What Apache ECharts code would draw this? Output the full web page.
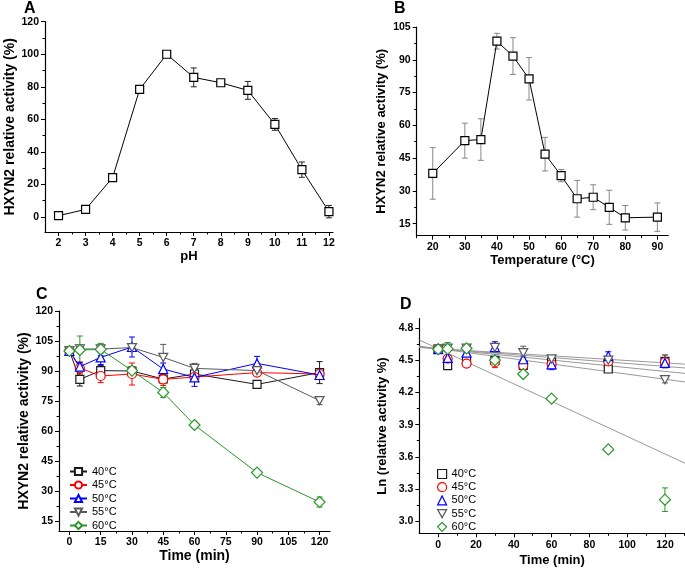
<!DOCTYPE html>
<html><head><meta charset="utf-8">
<script src="https://cdn.jsdelivr.net/npm/echarts@6/dist/echarts.min.js"></script>
<style>html,body{margin:0;padding:0;background:#fff}#c{width:685px;height:572px}</style>
</head><body><div id="c"></div>
<script>
// ---------- Panel A: pH ----------
const phValues   = [2, 3, 4, 5, 6, 7, 8, 9, 10, 11, 12];
const phActivity = [0.8, 4.7, 24.2, 78.4, 100, 85.8, 82.5, 77.8, 56.9, 29.1, 3.3];
const phError    = [0.8, 1, 1.5, 1.5, 0.5, 5.8, 1, 5.5, 3.6, 4.7, 3.8];
const phTicksX   = [2, 3, 4, 5, 6, 7, 8, 9, 10, 11, 12];
const phMinorX   = [2.5, 3.5, 4.5, 5.5, 6.5, 7.5, 8.5, 9.5, 10.5, 11.5];
const phTicksY   = [0, 20, 40, 60, 80, 100, 120];
const phMinorY   = [10, 30, 50, 70, 90, 110];

// ---------- Panel B: temperature ----------
const tempValues   = [20, 30, 35, 40, 45, 50, 55, 60, 65, 70, 75, 80, 90];
const tempActivity = [38, 53, 53.5, 98.5, 91.7, 81.3, 46.8, 37, 26.4, 27.1, 22.5, 17.7, 18];
const tempError    = [11.8, 8, 9.5, 3.6, 8.4, 9.7, 7.7, 2.8, 8.4, 5.7, 7.8, 5.6, 6.5];
const tempTicksX   = [20, 30, 40, 50, 60, 70, 80, 90];
const tempMinorX   = [15, 25, 35, 45, 55, 65, 75, 85];
const tempTicksY   = [15, 30, 45, 60, 75, 90, 105];
const tempMinorY   = [22.5, 37.5, 52.5, 67.5, 82.5, 97.5];

// ---------- Panel C: thermostability ----------
const timePoints = [0, 5, 15, 30, 45, 60, 90, 120];
const seriesNames = ['40°C', '45°C', '50°C', '55°C', '60°C'];
const act40 = [100, 85.8, 90.2, 90, 86, 88.5, 83.3, 89.2];
const act45 = [100, 91.5, 87.5, 88.5, 85.8, 87, 89.2, 88.5];
const act50 = [100, 92.2, 96.8, 102, 91, 86.8, 93.8, 88];
const act55 = [100, 101, 101, 101.7, 96.8, 91.3, 90.2, 75.2];
const act60 = [100, 100.5, 100.8, 90.2, 79.3, 63, 39.2, 24.5];
const err40 = [1, 3.3, 3, 2, 2, 2, 1, 5.5];
const err45 = [1, 3, 3.3, 5.5, 3, 2, 1, 2];
const err50 = [1, 2, 4, 5, 3, 4.5, 3.5, 2];
const err55 = [1, 2, 2, 2, 6.5, 2.5, 1, 2];
const err60 = [1, 7, 3, 2, 2.5, 1.5, 1.5, 2.5];
const cTicksX = [0, 15, 30, 45, 60, 75, 90, 105, 120];
const cMinorX = [7.5, 22.5, 37.5, 52.5, 67.5, 82.5, 97.5, 112.5];
const cTicksY = [15, 30, 45, 60, 75, 90, 105, 120];
const cMinorY = [22.5, 37.5, 52.5, 67.5, 82.5, 97.5, 112.5];

// ---------- Panel D: Ln(relative activity) ----------
const ln40 = [4.605, 4.452, 4.502, 4.500, 4.454, 4.483, 4.420, 4.491];
const ln45 = [4.605, 4.516, 4.471, 4.483, 4.452, 4.466, 4.491, 4.483];
const ln50 = [4.605, 4.524, 4.573, 4.625, 4.511, 4.464, 4.541, 4.477];
const ln55 = [4.605, 4.615, 4.615, 4.622, 4.573, 4.514, 4.502, 4.320];
const ln60 = [4.605, 4.608, 4.613, 4.502, 4.373, 4.143, 3.669, 3.199];
const lnErr40 = [0.01, 0.03, 0.03, 0.02, 0.02, 0.02, 0.01, 0.06];
const lnErr45 = [0.01, 0.03, 0.03, 0.05, 0.03, 0.02, 0.01, 0.02];
const lnErr50 = [0.01, 0.02, 0.04, 0.05, 0.03, 0.05, 0.04, 0.02];
const lnErr55 = [0.01, 0.02, 0.02, 0.02, 0.06, 0.03, 0.01, 0.03];
const lnErr60 = [0.01, 0.06, 0.03, 0.02, 0.02, 0.02, 0.02, 0.11];
const fitIntercept = [4.61, 4.61, 4.61, 4.61, 4.609];
const fitSlope     = [-0.00177, -0.00111, -0.00138, -0.00238, -0.00819];
const dTicksX = [0, 20, 40, 60, 80, 100, 120];
const dMinorX = [10, 30, 50, 70, 90, 110, 130];
const dTicksY = [3.0, 3.3, 3.6, 3.9, 4.2, 4.5, 4.8];
const dMinorY = [3.15, 3.45, 3.75, 4.05, 4.35, 4.65];

const FONT = "'Liberation Sans', Arial, Helvetica, sans-serif";
const colors = ['#1a1a1a', '#ff0000', '#0000ff', '#5a5a5a', '#2a962a'];
const downTri = 'path://M0,0 L10,0 L5,9 Z';
const symbols = ['rect', 'circle', 'triangle', downTri, 'diamond'];
const symSizes = [8, 9, 9, 9, 11];
const cActs = [act40, act45, act50, act55, act60];
const cErrs = [err40, err45, err50, err55, err60];
const dLns = [ln40, ln45, ln50, ln55, ln60];
const dErrs = [lnErr40, lnErr45, lnErr50, lnErr55, lnErr60];

const grids = [
  {left: 45, top: 21.7, width: 288, height: 210.3},
  {left: 416.7, top: 27, width: 251.6, height: 208.7},
  {left: 59, top: 311, width: 271, height: 220},
  {left: 419.3, top: 318.7, width: 265.7, height: 214.6}
];
const xRanges = [[1.5, 12.15], [15, 93.4], [-5, 125], [-10, 130.6]];
const yRanges = [[-9.2, 120], [9.5, 105], [10, 120], [2.885, 4.89]];

function mainAxis(dim, gi, range, ticks, name, nameGap, nameSize, fmt) {
  return {
    type: 'value', gridIndex: gi, min: range[0], max: range[1],
    position: dim === 'x' ? 'bottom' : 'left',
    axisLine: {show: true, onZero: false, lineStyle: {color: '#000', width: 1.2}},
    axisTick: {show: true, customValues: ticks, length: 4, lineStyle: {color: '#000', width: 1}},
    axisLabel: {customValues: ticks, color: '#000', fontSize: 10.5, fontWeight: 'bold', fontFamily: FONT,
                margin: 6, formatter: fmt},
    splitLine: {show: false},
    name: name, nameLocation: 'middle', nameGap: nameGap,
    nameTextStyle: {color: '#000', fontSize: nameSize, fontWeight: 'bold', fontFamily: FONT}
  };
}
function minorAxis(dim, gi, range, ticks) {
  return {
    type: 'value', gridIndex: gi, min: range[0], max: range[1],
    position: dim === 'x' ? 'bottom' : 'left',
    axisLine: {show: false, onZero: false},
    axisTick: {show: true, customValues: ticks, length: 2.5, lineStyle: {color: '#000', width: 1}},
    axisLabel: {show: false}, splitLine: {show: false}
  };
}
const intFmt = v => String(Math.round(v));
const oneFmt = v => v.toFixed(1);

const xAxes = [
  mainAxis('x', 0, xRanges[0], phTicksX, 'pH', 18, 13, intFmt), minorAxis('x', 0, xRanges[0], phMinorX),
  mainAxis('x', 1, xRanges[1], tempTicksX, 'Temperature (°C)', 12, 13, intFmt), minorAxis('x', 1, xRanges[1], tempMinorX),
  mainAxis('x', 2, xRanges[2], cTicksX, 'Time (min)', 15, 14, intFmt), minorAxis('x', 2, xRanges[2], cMinorX),
  mainAxis('x', 3, xRanges[3], dTicksX, 'Time (min)', 21, 13, intFmt), minorAxis('x', 3, xRanges[3], dMinorX)
];
const yAxes = [
  mainAxis('y', 0, yRanges[0], phTicksY, 'HXYN2 relative activity (%)', 28, 14, intFmt), minorAxis('y', 0, yRanges[0], phMinorY),
  mainAxis('y', 1, yRanges[1], tempTicksY, 'HXYN2 relative activity (%)', 29, 13, intFmt), minorAxis('y', 1, yRanges[1], tempMinorY),
  mainAxis('y', 2, yRanges[2], cTicksY, 'HXYN2 relative activity (%)', 28, 14, intFmt), minorAxis('y', 2, yRanges[2], cMinorY),
  mainAxis('y', 3, yRanges[3], dTicksY, 'Ln (relative activity %)', 30, 13, oneFmt), minorAxis('y', 3, yRanges[3], dMinorY)
];

function errRender(color, half) {
  return function (params, api) {
    const x = api.value(0), lo = api.value(1), hi = api.value(2);
    const a = api.coord([x, hi]), b = api.coord([x, lo]);
    const st = {stroke: color, lineWidth: 1, fill: null};
    return {type: 'group', children: [
      {type: 'line', shape: {x1: a[0], y1: a[1], x2: b[0], y2: b[1]}, style: st},
      {type: 'line', shape: {x1: a[0] - half, y1: a[1], x2: a[0] + half, y2: a[1]}, style: st},
      {type: 'line', shape: {x1: b[0] - half, y1: b[1], x2: b[0] + half, y2: b[1]}, style: st}
    ]};
  };
}
function errSeries(axisIdx, xs, ys, es, color, half) {
  return {
    type: 'custom', xAxisIndex: axisIdx, yAxisIndex: axisIdx, silent: true, z: 2,
    renderItem: errRender(color, half),
    encode: {x: 0, y: [1, 2]},
    data: xs.map((x, i) => [x, ys[i] - es[i], ys[i] + es[i]])
  };
}

const series = [];
// A
series.push(errSeries(0, phValues, phActivity, phError, '#222', 3));
series.push({type: 'line', xAxisIndex: 0, yAxisIndex: 0, z: 3,
  data: phValues.map((x, i) => [x, phActivity[i]]),
  symbol: 'rect', symbolSize: 8,
  itemStyle: {color: '#fff', borderColor: '#000', borderWidth: 1.2},
  lineStyle: {color: '#000', width: 1}});
// B
series.push(errSeries(2, tempValues, tempActivity, tempError, '#888', 3));
series.push({type: 'line', xAxisIndex: 2, yAxisIndex: 2, z: 3,
  data: tempValues.map((x, i) => [x, tempActivity[i]]),
  symbol: 'rect', symbolSize: 8,
  itemStyle: {color: '#fff', borderColor: '#000', borderWidth: 1.2},
  lineStyle: {color: '#000', width: 1}});
// C
seriesNames.forEach((nm, k) => {
  series.push(errSeries(4, timePoints, cActs[k], cErrs[k], colors[k], 3));
});
seriesNames.forEach((nm, k) => {
  series.push({type: 'line', name: nm, xAxisIndex: 4, yAxisIndex: 4, z: 3 + k,
    data: timePoints.map((t, i) => [t, cActs[k][i]]),
    symbol: symbols[k], symbolSize: symSizes[k], symbolKeepAspect: true,
    itemStyle: {color: '#fff', borderColor: colors[k], borderWidth: 1.2},
    lineStyle: {color: colors[k], width: 1}});
});
// D fit lines
fitIntercept.forEach((a, k) => {
  const xs = xRanges[3];
  series.push({type: 'line', xAxisIndex: 6, yAxisIndex: 6, z: 2, silent: true,
    data: [[xs[0], a + fitSlope[k] * xs[0]], [xs[1], a + fitSlope[k] * xs[1]]],
    symbol: 'none', lineStyle: {color: '#999', width: 1}});
});
seriesNames.forEach((nm, k) => {
  series.push(errSeries(6, timePoints, dLns[k], dErrs[k], colors[k], 3));
});
seriesNames.forEach((nm, k) => {
  series.push({type: 'line', name: 'D' + nm, xAxisIndex: 6, yAxisIndex: 6, z: 3 + k,
    data: timePoints.map((t, i) => [t, dLns[k][i]]),
    lineStyle: {width: 0, opacity: 0},
    symbol: symbols[k], symbolSize: symSizes[k], symbolKeepAspect: true,
    itemStyle: {color: '#fff', borderColor: colors[k], borderWidth: 1.2}});
});

const panelLabel = (t, x, y) => ({type: 'text', left: x, top: y,
  style: {text: t, fontSize: 16, fontWeight: 'bold', fontFamily: FONT, fill: '#000'}});

const option = {
  animation: false,
  backgroundColor: '#fff',
  grid: grids,
  xAxis: xAxes,
  yAxis: yAxes,
  legend: [
    {data: seriesNames, orient: 'vertical', left: 64, top: 461, selectedMode: false,
     itemWidth: 17, itemHeight: 9, itemGap: 2.5, itemTextGap: 2,
     textStyle: {fontSize: 11, fontFamily: FONT, color: '#000', lineHeight: 11}},
    {data: seriesNames.map(n => ({name: 'D' + n, icon: symbols[seriesNames.indexOf(n)],
       itemStyle: {color: '#fff', borderColor: colors[seriesNames.indexOf(n)], borderWidth: 1.2}})),
     orient: 'vertical', left: 432, top: 463.5, selectedMode: false,
     itemWidth: 9, itemHeight: 9, itemGap: 2.2, itemTextGap: 5,
     formatter: n => n.slice(1),
     textStyle: {fontSize: 11, fontFamily: FONT, color: '#000', lineHeight: 11}}
  ],
  graphic: [
    panelLabel('A', 24, 1),
    panelLabel('B', 394, 1),
    panelLabel('C', 36, 287),
    panelLabel('D', 400, 297)
  ],
  series: series
};
const chart = echarts.init(document.getElementById('c'), null, {renderer: 'canvas'});
chart.setOption(option);
</script></body></html>
